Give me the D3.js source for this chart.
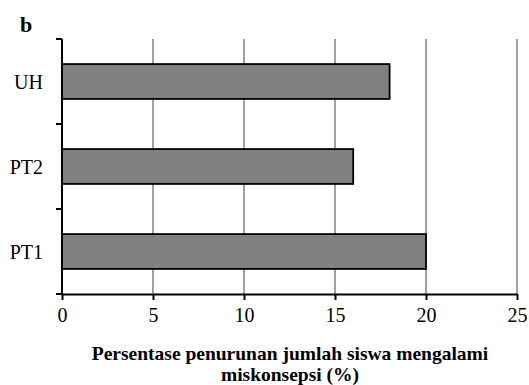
<!DOCTYPE html>
<html>
<head>
<meta charset="utf-8">
<script src="https://cdn.jsdelivr.net/npm/d3@7"></script>
<style>
  html, body { margin: 0; padding: 0; background: #fff; }
  svg { display: block; }
</style>
</head>
<body>
<svg id="chart" width="529" height="385"></svg>
<script>
// Categories (top to bottom) and their percentage values
const categories = ["UH", "PT2", "PT1"];
const values = [18, 16, 20];
const xTicks = [0, 5, 10, 15, 20, 25];
const xTitleLines = ["Persentase penurunan jumlah siswa mengalami", "miskonsepsi (%)"];
const panelLabel = "b";

const FONT = '"Liberation Serif"';
const svg = d3.select("#chart");
const plot = { left: 62, right: 517, top: 39, bottom: 294 };

const x = d3.scaleLinear().domain([0, 25]).range([plot.left, plot.right]);
const y = d3.scaleBand().domain(categories).range([plot.top, plot.bottom])
  .paddingInner(0.59).paddingOuter(0.295);

// Vertical gridlines
svg.append("g")
  .selectAll("line")
  .data(xTicks.filter(d => d > 0))
  .join("line")
  .attr("x1", d => x(d)).attr("x2", d => x(d))
  .attr("y1", plot.top).attr("y2", plot.bottom)
  .attr("stroke", "#8a8a8a").attr("stroke-width", 1.6);

// Bars
svg.append("g")
  .selectAll("rect")
  .data(categories.map((c, i) => ({ c, v: values[i] })))
  .join("rect")
  .attr("x", x(0))
  .attr("y", d => y(d.c))
  .attr("width", d => x(d.v) - x(0))
  .attr("height", y.bandwidth())
  .attr("fill", "#808080")
  .attr("stroke", "#000")
  .attr("stroke-width", 1.8);

// X axis
const xAxis = svg.append("g")
  .attr("transform", `translate(0,${plot.bottom})`)
  .call(d3.axisBottom(x).tickValues(xTicks).tickSize(6).tickPadding(8).tickSizeOuter(0));
xAxis.attr("font-family", null).attr("font-size", null);
xAxis.select(".domain").attr("stroke", "#000").attr("stroke-width", 2);
xAxis.selectAll(".tick line").attr("stroke", "#000").attr("stroke-width", 2);
xAxis.selectAll(".tick text")
  .style("font-family", FONT)
  .style("font-size", "20px").attr("fill", "#000");

// Y axis: ticks sit at band boundaries
const bounds = d3.range(categories.length + 1).map(i => plot.top + i * y.step());
const yg = svg.append("g");
yg.append("line")
  .attr("x1", plot.left).attr("x2", plot.left)
  .attr("y1", plot.top).attr("y2", plot.bottom)
  .attr("stroke", "#000").attr("stroke-width", 2);
yg.selectAll("line.tk")
  .data(bounds)
  .join("line").attr("class", "tk")
  .attr("x1", plot.left - 6).attr("x2", plot.left)
  .attr("y1", d => d).attr("y2", d => d)
  .attr("stroke", "#000").attr("stroke-width", 2);
yg.selectAll("text")
  .data(categories)
  .join("text")
  .attr("x", 43)
  .attr("y", d => y(d) + y.bandwidth() / 2)
  .attr("dy", "0.35em")
  .attr("text-anchor", "end")
  .style("font-family", FONT)
  .style("font-size", "20px")
  .attr("fill", "#000")
  .text(d => d);

// X axis title
svg.append("text")
  .attr("text-anchor", "middle")
  .style("font-family", FONT)
  .style("font-size", "19.5px")
  .style("font-weight", "bold")
  .selectAll("tspan")
  .data(xTitleLines)
  .join("tspan")
  .attr("x", 290)
  .attr("y", (d, i) => 360 + i * 21)
  .text(d => d);

// Panel label
svg.append("text")
  .attr("x", 20).attr("y", 32)
  .style("font-family", FONT)
  .style("font-size", "22px").style("font-weight", "bold")
  .text(panelLabel);
</script>
</body>
</html>
